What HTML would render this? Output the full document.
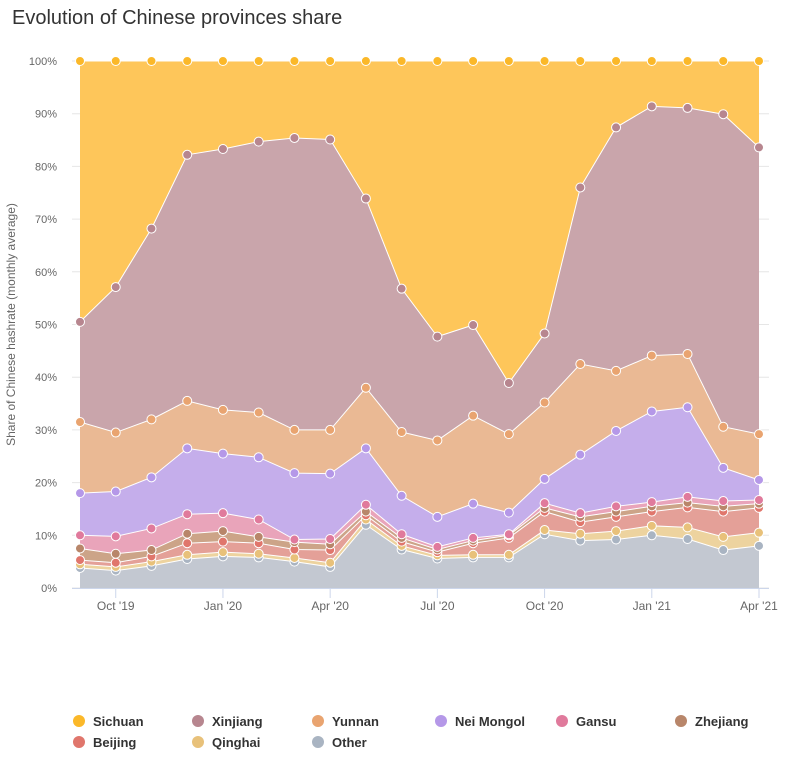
<!DOCTYPE html>
<html><head><meta charset="utf-8">
<style>
body{margin:0;background:#fff;font-family:"Liberation Sans",sans-serif;}
#wrap{position:relative;width:786px;height:767px;}
</style></head>
<body>
<div id="wrap">
<svg id="chart" width="786" height="767" xmlns="http://www.w3.org/2000/svg">
<text x="12" y="24" font-size="20" fill="#333" font-family="Liberation Sans, sans-serif">Evolution of Chinese provinces share</text>
</svg>
</div>
<script>
const months = ["Sep 19","Oct 19","Nov 19","Dec 19","Jan 20","Feb 20","Mar 20","Apr 20","May 20","Jun 20","Jul 20","Aug 20","Sep 20","Oct 20","Nov 20","Dec 20","Jan 21","Feb 21","Mar 21","Apr 21"];
const xTickLabels = ["Oct '19","Jan '20","Apr '20","Jul '20","Oct '20","Jan '21","Apr '21"];
const xTickIndex = [1,4,7,10,13,16,19];
const yTicks = [0,10,20,30,40,50,60,70,80,90,100];
const seriesNames = ["Other","Qinghai","Beijing","Zhejiang","Gansu","Nei Mongol","Yunnan","Xinjiang","Sichuan"];
// cumulative stacked tops (%)
const other    = [3.8,3.3,4.2,5.5,6,5.8,5,4,12,7.3,5.6,5.8,5.8,10.2,9,9.2,10,9.3,7.2,8];
const qinghai  = [4.5,4,5,6.3,6.8,6.5,5.7,4.8,13,8,6.2,6.3,6.3,11,10.3,10.8,11.8,11.5,9.7,10.5];
const beijing  = [5.3,4.8,6,8.5,8.8,8.5,7.3,7.2,13.8,8.8,6.8,8.5,9.5,14.5,12.5,13.5,14.5,15.3,14.5,15.2];
const zhejiang = [7.5,6.5,7.2,10.3,10.8,9.7,8.7,8.3,14.5,9.5,7.3,9,10,15.2,13.5,14.5,15.5,16.2,15.5,16];
const gansu    = [10,9.8,11.3,14,14.2,13,9.2,9.3,15.8,10.2,7.8,9.5,10.2,16.1,14.2,15.5,16.3,17.3,16.5,16.7];
const neimongol= [18,18.3,21,26.5,25.5,24.8,21.8,21.7,26.5,17.5,13.5,16,14.3,20.7,25.3,29.8,33.5,34.3,22.8,20.5];
const yunnan   = [31.5,29.5,32,35.5,33.8,33.3,30,30,38,29.6,28,32.7,29.2,35.2,42.5,41.2,44.1,44.4,30.6,29.2];
const xinjiang = [50.5,57.1,68.2,82.2,83.3,84.7,85.4,85.1,73.9,56.8,47.7,49.9,38.9,48.3,76,87.4,91.4,91.1,89.9,83.6];
const sichuan  = [100,100,100,100,100,100,100,100,100,100,100,100,100,100,100,100,100,100,100,100];

const stacks=[other,qinghai,beijing,zhejiang,gansu,neimongol,yunnan,xinjiang,sichuan];
const areaCol=["#c3c8d1","#edd39f","#e4a098","#cca488","#e9a4ba","#c5aeeb","#eab994","#c9a5ab","#fec65a"];
const dotCol=["#a9b4c2","#e8c17a","#e0766c","#b8866a","#e07a9c","#b598e8","#e9a470","#b7868f","#fbb829"];
const ns="http://www.w3.org/2000/svg";
const svg=document.getElementById('chart');
const X0=80,X1=759,Y0=588,Y1=61;
const xs=i=>X0+(X1-X0)*i/(months.length-1);
const ys=v=>Y0-(Y0-Y1)*v/100;
function mk(t,a){const e=document.createElementNS(ns,t);for(const k in a)e.setAttribute(k,a[k]);svg.appendChild(e);return e;}
yTicks.forEach(v=>{
  const g=mk('line',{x1:X0-8,x2:X1+10,y1:ys(v),y2:ys(v),stroke:'#e6e6e6','stroke-width':1});
  
  
  const t=mk('text',{x:57,y:ys(v)+4,'font-size':11,fill:'#666','text-anchor':'end'});
  t.textContent=v+'%';
  
  
});
for(let s=stacks.length-1;s>=0;s--){
  const top=stacks[s],bot=s>0?stacks[s-1]:null;
  let d='M'+xs(0)+','+ys(top[0]);
  for(let i=1;i<top.length;i++)d+='L'+xs(i)+','+ys(top[i]);
  for(let i=top.length-1;i>=0;i--)d+='L'+xs(i)+','+ys(bot?bot[i]:0);
  const p=mk('path',{d:d+'Z',fill:areaCol[s],stroke:'none'});
  
  
}
for(let s=0;s<stacks.length;s++){
  const top=stacks[s];
  let d='M'+xs(0)+','+ys(top[0]);
  for(let i=1;i<top.length;i++)d+='L'+xs(i)+','+ys(top[i]);
  const l=mk('path',{d:d,fill:'none',stroke:'#fff','stroke-width':1});
  
  
}
for(let s=0;s<stacks.length;s++){
  stacks[s].forEach((v,i)=>{
    const c=mk('circle',{cx:xs(i),cy:ys(v),r:4.5,fill:dotCol[s],stroke:'#fff','stroke-width':1});
    
    
  });
}
const ax=mk('line',{x1:X0-8,x2:X1+10,y1:Y0+0.5,y2:Y0+0.5,stroke:'#ccd6eb','stroke-width':1});


xTickIndex.forEach((ix,k)=>{
  const tk=mk('line',{x1:xs(ix),x2:xs(ix),y1:Y0,y2:Y0+10,stroke:'#ccd6eb'});
  
  
  const t=mk('text',{x:xs(ix),y:Y0+22,'font-size':12,fill:'#666','text-anchor':'middle'});
  t.textContent=xTickLabels[k];
  
  
});
const yt=mk('text',{x:0,y:0,'font-size':12,fill:'#666','text-anchor':'middle',transform:'translate(15,'+ys(50)+') rotate(-90)'});
yt.textContent='Share of Chinese hashrate (monthly average)';


const legendOrder=[8,7,6,5,4,3,2,1,0];
const lx=[79,198,318,441,562,681];
legendOrder.forEach((s,k)=>{
  const col=k%6,row=Math.floor(k/6);
  const cx=lx[col],cy=721+row*21;
  const c=mk('circle',{cx:cx,cy:cy,r:6,fill:dotCol[s]});
  
  
  const t=mk('text',{x:cx+14,y:cy+5,'font-size':13,'font-weight':'bold',fill:'#333'});
  t.textContent=seriesNames[s];
  
  
});
</script>
</body></html>
